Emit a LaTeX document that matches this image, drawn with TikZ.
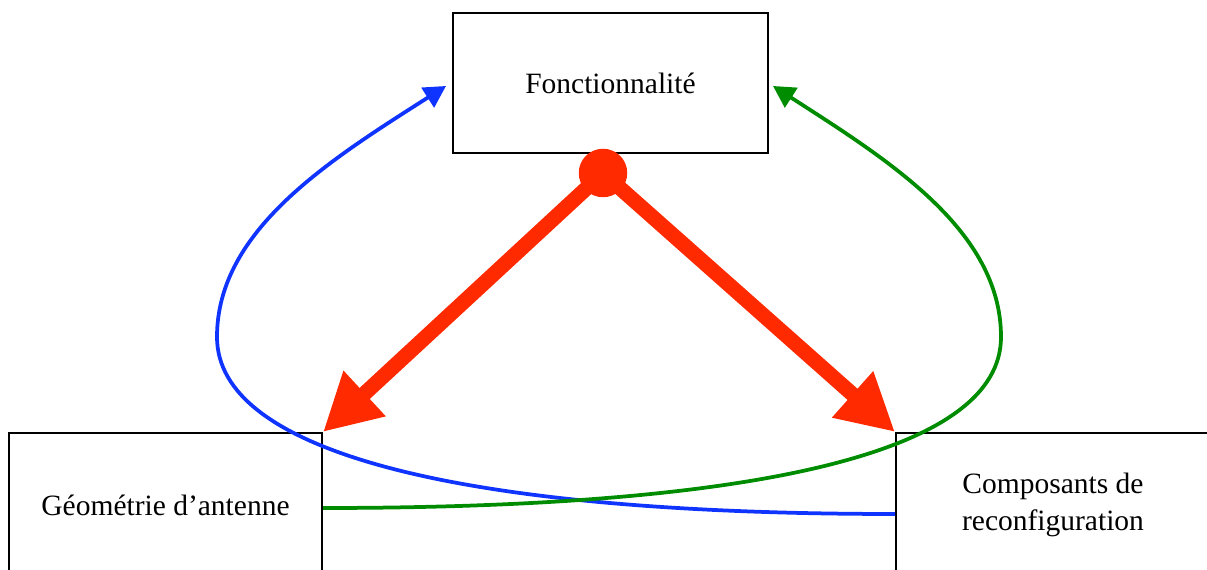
\documentclass[tikz,border=0pt]{standalone}
\usepackage{fontspec}
\setmainfont{Liberation Serif}
\usetikzlibrary{arrows.meta,calc}
\definecolor{hubred}{RGB}{255,42,0}
\definecolor{loopblue}{RGB}{16,52,255}
\definecolor{loopgreen}{RGB}{0,140,0}

\begin{document}
\begin{tikzpicture}[x=0.4pt,y=-0.4pt,
blockbox/.style={draw,line width=0.8pt,align=center,inner sep=0pt,minimum height=57.6pt,font=\fontsize{11.8}{14.8}\selectfont},
bigarr/.style={-{Triangle[length=22.7pt,width=23.2pt]},line width=6pt,hubred},
looparr/.style={-{Triangle[length=8.7pt,width=9.2pt]},line width=1.5pt}]
\useasboundingbox (0,0) rectangle (1207,570);
\clip (0,0) rectangle (1207,570);
\node[blockbox,minimum width=126pt,minimum height=56pt](fonc) at (610.5,83){Fonctionnalité};
\node[blockbox,minimum width=125.2pt](geo) at (165.5,505){Géométrie d’antenne};
\node[blockbox,minimum width=125.6pt](comp) at (1053,505){Composants de\\reconfiguration};
\draw[looparr,loopblue]($(comp.west)+(0,9)$) .. controls (450,514) and (217,450) .. (217,337)
  .. controls (217,230) and (330,160) .. ($(fonc.west)+(-6,3)$);
\draw[looparr,loopgreen]($(geo.east)+(0,3)$) .. controls (768,508) and (1001,450) .. (1001,337)
  .. controls (1001,230) and (888,160) .. ($(fonc.east)+(4,3)$);
\node[circle,fill=hubred,inner sep=0pt,minimum size=19.4pt](hub) at (603,173){};
\draw[bigarr](hub.center)--(geo.north east);\draw[bigarr](hub.center)--(comp.north west);
\end{tikzpicture}
\end{document}
